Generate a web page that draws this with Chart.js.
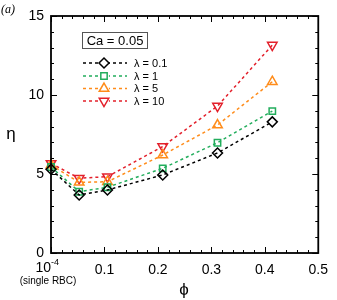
<!DOCTYPE html>
<html><head><meta charset="utf-8">
<script src="https://cdn.jsdelivr.net/npm/chart.js@4/dist/chart.umd.min.js"></script>
<style>html,body{margin:0;padding:0;background:#fff}#wrap{width:337px;height:300px}</style>
</head><body><div id="wrap"><canvas id="c" width="337" height="300"></canvas></div>
<script>
const phi = [0.0001, 0.0527, 0.1056, 0.209, 0.3115, 0.414];
const etaL01 = [5.30, 3.67, 3.99, 4.94, 6.33, 8.30];
const etaL1 = [5.44, 3.88, 4.16, 5.36, 6.98, 8.98];
const etaL5 = [5.57, 4.47, 4.51, 6.20, 8.10, 10.84];
const etaL10 = [5.67, 4.73, 4.83, 6.74, 9.30, 13.16];
const seriesLabels = ['λ = 0.1', 'λ = 1', 'λ = 5', 'λ = 10'];
const yTicks = [0, 5, 10, 15];
const xTicks = [0.1, 0.2, 0.3, 0.4, 0.5];
const annotationText = 'Ca = 0.05';

const colors = ['#000000', '#22ad5c', '#ff8c1a', '#e3202b'];
const styles = ['rectRot', 'rect', 'triangle', 'triangle'];
const rots = [0, 0, 0, 180];
const radii = [5, 4.5, 5.5, 5.5];
const allY = [etaL01, etaL1, etaL5, etaL10];

const datasets = allY.map((ys, k) => ({
  label: seriesLabels[k],
  data: phi.map((p, i) => ({x: p, y: ys[i]})),
  borderColor: colors[k],
  backgroundColor: '#ffffff',
  borderWidth: 1.5,
  borderDash: [3, 3],
  pointStyle: styles[k],
  pointRotation: rots[k],
  pointRadius: radii[k],
  pointBorderWidth: 1.5,
  pointBorderColor: colors[k],
  pointBackgroundColor: 'rgba(255,255,255,0)',
  showLine: true,
  tension: 0,
  fill: false,
  clip: false
}));

const SANS = '"Liberation Sans", Arial, sans-serif';

const decor = {
  id: 'decor',
  afterDraw(chart) {
    const ctx = chart.ctx, a = chart.chartArea, xs = chart.scales.x, ys = chart.scales.y;
    ctx.save();
    ctx.strokeStyle = '#000';
    ctx.lineWidth = 1;
    for (let v = 0; v <= 15; v++) {
      const y = Math.round(ys.getPixelForValue(v)) + 0.5;
      const len = (v % 5 === 0) ? 6 : 3;
      ctx.beginPath();
      ctx.moveTo(a.left, y); ctx.lineTo(a.left + len, y);
      ctx.moveTo(a.right, y); ctx.lineTo(a.right - len, y);
      ctx.stroke();
    }
    for (let i = 0; i <= 25; i++) {
      const x = Math.round(xs.getPixelForValue(i * 0.02)) + 0.5;
      const len = (i % 5 === 0) ? 6 : 3;
      ctx.beginPath();
      ctx.moveTo(x, a.bottom); ctx.lineTo(x, a.bottom - len);
      ctx.moveTo(x, a.top); ctx.lineTo(x, a.top + len);
      ctx.stroke();
    }
    ctx.lineWidth = 1.8;
    ctx.strokeRect(a.left, a.top, a.right - a.left, a.bottom - a.top);

    const x0 = xs.getPixelForValue(0);
    ctx.fillStyle = '#000';
    ctx.textBaseline = 'alphabetic';
    ctx.font = '14px ' + SANS;
    ctx.textAlign = 'right';
    ctx.fillText('10', x0, 272);
    ctx.font = '9px ' + SANS;
    ctx.textAlign = 'left';
    ctx.fillText('-4', x0, 265);
    ctx.font = '10px ' + SANS;
    ctx.textAlign = 'center';
    ctx.fillText('(single RBC)', 48, 284);

    ctx.font = '17px ' + SANS;
    ctx.textAlign = 'center';
    ctx.textBaseline = 'middle';
    ctx.fillText('\u03D5', 184, 290);
    ctx.fillText('η', 11, 134);

    ctx.font = 'italic 12px "Liberation Serif", serif';
    ctx.textAlign = 'left';
    ctx.fillText('(a)', 1, 10);

    ctx.fillStyle = '#fff';
    ctx.fillRect(82, 32, 66, 17);
    ctx.lineWidth = 1;
    ctx.strokeStyle = '#555';
    ctx.strokeRect(82.5, 32.5, 65, 16);
    ctx.fillStyle = '#000';
    ctx.font = '13px ' + SANS;
    ctx.textAlign = 'center';
    ctx.fillText(annotationText, 115, 41);

    const rows = [63, 76, 88.5, 101];
    chart.data.datasets.forEach((ds, k) => {
      const y = rows[k];
      ctx.strokeStyle = ds.borderColor;
      ctx.lineWidth = 1.5;
      ctx.setLineDash([3, 3]);
      ctx.beginPath();
      ctx.moveTo(83, y); ctx.lineTo(127, y);
      ctx.stroke();
      ctx.setLineDash([]);
      ctx.fillStyle = '#fff';
      ctx.beginPath(); ctx.arc(104, y, 5, 0, Math.PI * 2); ctx.fill();
      ctx.lineWidth = 1.5;
      Chart.helpers.drawPoint(ctx, {pointStyle: ds.pointStyle, rotation: ds.pointRotation, radius: ds.pointRadius, borderWidth: 1.5}, 104, y);
      ctx.fillStyle = '#000';
      ctx.font = '11px ' + SANS;
      ctx.textAlign = 'left';
      ctx.textBaseline = 'middle';
      ctx.fillText(ds.label, 134, y + 0.5);
    });
    ctx.restore();
  }
};

new Chart(document.getElementById('c'), {
  type: 'line',
  data: { datasets },
  options: {
    responsive: false,
    animation: false,
    devicePixelRatio: 1,
    layout: { padding: { left: 0, top: 16, right: 17, bottom: 0 } },
    plugins: { legend: { display: false }, tooltip: { enabled: false } },
    scales: {
      x: {
        type: 'linear', min: 0, max: 0.5,
        afterBuildTicks(s) { s.ticks = xTicks.map(v => ({value: v})); },
        afterFit(s) { s.height = 47; },
        grid: { display: false, drawTicks: false },
        border: { display: false },
        ticks: {
          padding: 9, color: '#000', font: { family: SANS, size: 14 },
          maxRotation: 0,
          callback: v => v.toFixed(1)
        }
      },
      y: {
        type: 'linear', min: 0, max: 15,
        afterBuildTicks(s) { s.ticks = yTicks.map(v => ({value: v})); },
        afterFit(s) { s.width = 51; },
        grid: { display: false, drawTicks: false },
        border: { display: false },
        ticks: {
          padding: 7, color: '#000', font: { family: SANS, size: 14 },
          callback: v => String(v)
        }
      }
    }
  },
  plugins: [decor]
});
</script>
</body></html>
